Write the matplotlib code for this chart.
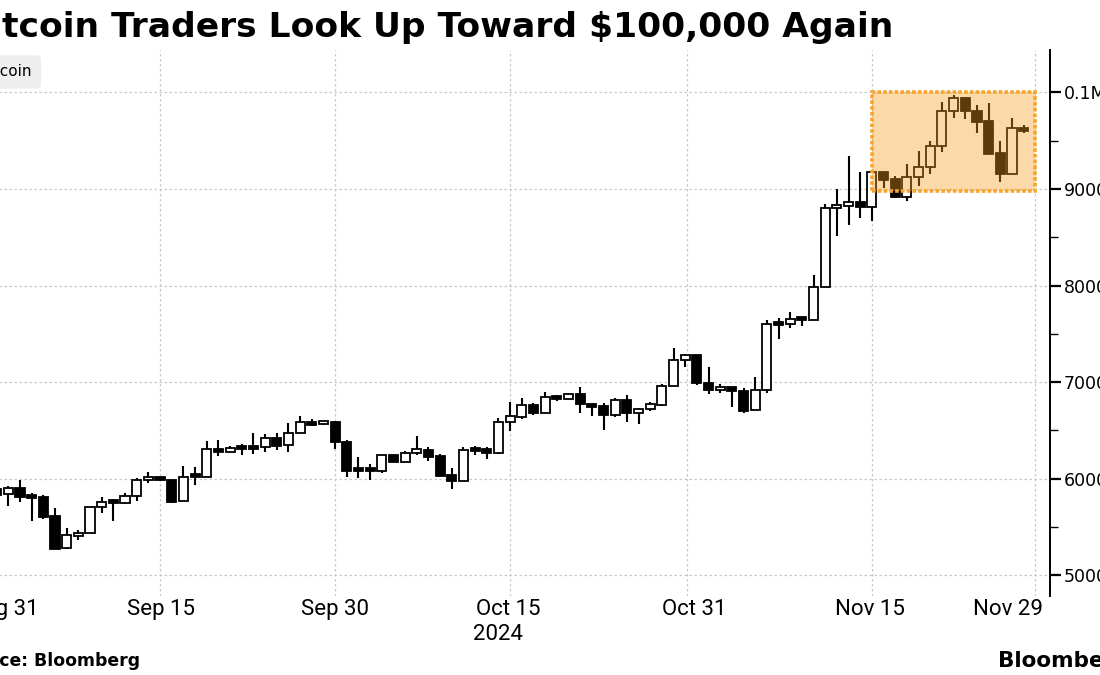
import numpy as np
import pandas as pd
import matplotlib
matplotlib.use("Agg")
import matplotlib.pyplot as plt
import matplotlib.dates as mdates
from matplotlib.patches import Rectangle

# daily candles, Sep 1 - Nov 28 2024
dates = pd.date_range("2024-09-01", "2024-11-28", freq="D")
opens = [58900, 58380, 59040, 58180, 58100, 56110, 52800, 54100, 54350, 57040,
         57590, 57450, 58180, 59870, 60040, 59870, 57660, 60280, 60210, 63040,
         62800, 63180, 63310, 63250, 64180, 63460, 64700, 65840, 65630, 65840,
         63770, 60880, 60880, 60770, 62420, 61700, 62630, 62970, 62350, 60350,
         59730, 63040, 63040, 62690, 65840, 66420, 67600, 66830, 68460, 68220,
         68740, 67730, 67530, 66560, 68120, 66770, 67180, 67660, 69570, 72290,
         72770,
         69880, 69150, 69460, 69050, 67080, 69150, 76030, 75980, 76600, 76430,
         79880, 87990, 88260, 88610, 88160, 91720, 90990, 89130, 91260, 92240,
         94410, 98030, 99380, 98030, 97000, 93690, 91570, 96340]
highs = [59200, 59240, 59830, 58490, 58310, 56940, 54870, 54690, 57100, 58070,
         57870, 58490, 60040, 60660, 60210, 59900, 61320, 61240, 63900, 64010,
         63390, 63560, 64700, 64630, 64760, 65800, 66490, 66180, 65970, 65970,
         64010, 62280, 61490, 62420, 62450, 62870, 64420, 63310, 62560, 61140,
         63310, 63390, 63310, 66250, 67970, 68390, 67870, 68940, 68670, 68900,
         69460, 67870, 67810, 68320, 68700, 67290, 67910, 69800, 73500, 72880,
         72800,
         71530, 69800, 69520, 69390, 70500, 76430, 76600, 77230, 76770, 81060,
         88410, 89960, 93440, 91720, 91720, 91750, 91370, 92550, 93960, 94960,
         99000, 99720, 99550, 98650, 98860, 94930, 97310, 96580]
lows = [57900, 57200, 57560, 55620, 55860, 52690, 52690, 53650, 54350, 56480,
        55620, 57350, 57720, 59520, 59760, 57450, 57660, 59320, 60210, 62350,
        62800, 62480, 62530, 62800, 62970, 62730, 64700, 65490, 65560, 63080,
        60150, 60040, 59870, 60560, 61680, 61700, 62450, 61830, 60250, 58900,
        59730, 62450, 62010, 62530, 64950, 66210, 66630, 66830, 68040, 68220,
        66770, 66520, 65040, 66360, 65840, 65630, 67010, 67560, 69570, 71530,
        69700,
        68740, 68900, 67450, 66830, 67080, 68900, 74430, 75570, 75810, 76430,
        79880, 85160, 86260, 86960, 86710, 90060, 89030, 88780, 90300, 91540,
        93850, 97310, 97210, 95760, 93640, 90710, 91570, 95760]
closes = [58350, 59000, 58140, 58030, 56070, 52750, 54140, 54350, 57040, 57560,
          57450, 58180, 59870, 60040, 59870, 57620, 60150, 60150, 63040, 62800,
          63180, 63040, 63110, 64180, 63420, 64700, 65840, 65590, 65840, 63770,
          60770, 60780, 60780, 62420, 61700, 62630, 63040, 62280, 60310, 59730,
          62970, 62870, 62690, 65840, 66490, 67600, 66830, 68460, 68220, 68740,
          67700, 67450, 66560, 68120, 66770, 67180, 67700, 69570, 72290, 72770,
          69880,
          69150, 69460, 69050, 67040, 69150, 75980, 75930, 76500, 76430, 79880,
          87990, 88330, 88610, 88160, 91720, 90950, 89130, 91260, 92240, 94410,
          98030, 99380, 98030, 96960, 93640, 91570, 96340, 96030]

tick_names = ["Aug 31", "Sep 15", "Sep 30", "Oct 15", "Oct 31", "Nov 15", "Nov 29"]
y_ticks = [50000, 60000, 70000, 80000, 90000, 100000]
y_labels = ["50000", "60000", "70000", "80000", "90000", "0.1M"]
box_low, box_high = 89800, 100000

W, H = 1100, 675
fig = plt.figure(figsize=(W / 100, H / 100), dpi=100)
# plot area runs past the left edge of the picture (cropped look)
L, R, T, B = -40, 1050, 50, 596
ax = fig.add_axes([L / W, 1 - B / H, (R - L) / W, (B - T) / H])

base = mdates.date2num(pd.Timestamp("2024-08-31"))
x = mdates.date2num(dates)
o = np.array(opens)
h = np.array(highs)
l = np.array(lows)
c = np.array(closes)
up = c >= o

# wicks then bodies
ax.vlines(x, l, h, color="black", lw=1.5, zorder=2)
body_h = np.maximum(np.abs(c - o), 300)
body_b = np.minimum(o, c)
ax.bar(x, body_h, bottom=body_b, width=0.78,
       color=np.where(up, "white", "black"), edgecolor="black", lw=1.3, zorder=3)

# highlight box
ax.add_patch(Rectangle((base + 76, box_low), 14, box_high - box_low,
                       facecolor="#f99d1b", alpha=0.38, edgecolor="none", zorder=5))
ax.add_patch(Rectangle((base + 76, box_low), 14, box_high - box_low,
                       fill=False, edgecolor="#f6a630", lw=2.6,
                       linestyle=(0, (1, 0.6)), zorder=6))

# pixel -> day mapping: x_px = -15 + 11.67 * day
ppd = 11.67
ax.set_xlim(base + (L + 15) / ppd, base + (R + 15) / ppd)
ax.set_ylim(109555 - 103.52 * B, 109555 - 103.52 * T)

# vertical grid lines
for d in [0, 15, 30, 45, 60.15, 76, 90]:
    ax.axvline(base + d, color="#c8c8c8", lw=0.9, linestyle=(0, (2, 2)), zorder=1)

ax.set_xticks([base + d for d in [1.6, 15.05, 30, 44.8, 60.8, 75.8, 87.7]])
ax.set_xticklabels(tick_names, family=["Roboto", "DejaVu Sans"], fontsize=16)
ax.tick_params(axis="x", length=0, pad=2)

ax.yaxis.tick_right()
ax.set_yticks(y_ticks)
ax.set_yticklabels(y_labels, fontsize=12.5)
ax.set_yticks([55000, 65000, 75000, 85000, 95000], minor=True)
ax.tick_params(axis="y", which="major", length=8, width=1.6, pad=2, color="black")
ax.tick_params(axis="y", which="minor", length=6, width=1.0, color="black")
ax.grid(axis="y", which="major", color="#c8c8c8", lw=0.9, linestyle=(0, (2, 2)))
ax.set_axisbelow(True)

for s in ["top", "left", "bottom"]:
    ax.spines[s].set_visible(False)
ax.spines["right"].set_linewidth(1.4)

fig.text(893 / W, 1 - 37.5 / H, "Bitcoin Traders Look Up Toward \\$100,000 Again",
         ha="right", va="baseline", fontsize=24.8, fontweight="bold",
         family="DejaVu Sans")
fig.text(32 / W, 1 - 72 / H, "Bitcoin", ha="right", va="center", fontsize=11,
         bbox=dict(boxstyle="round,pad=0.6,rounding_size=0.3", fc="#eeeeee", ec="none"))
fig.text(498 / W, 1 - 634 / H, "2024", ha="center", va="center", fontsize=16,
         family=["Roboto", "DejaVu Sans"])
fig.text(140 / W, 1 - 666 / H, "Source: Bloomberg", ha="right", va="baseline",
         fontsize=12.4, fontweight="bold", family="DejaVu Sans")
fig.text(998 / W, 1 - 667 / H, "Bloomberg", ha="left", va="baseline",
         fontsize=15.5, fontweight="bold", family="DejaVu Sans")

fig.savefig("out.png", dpi=100)
